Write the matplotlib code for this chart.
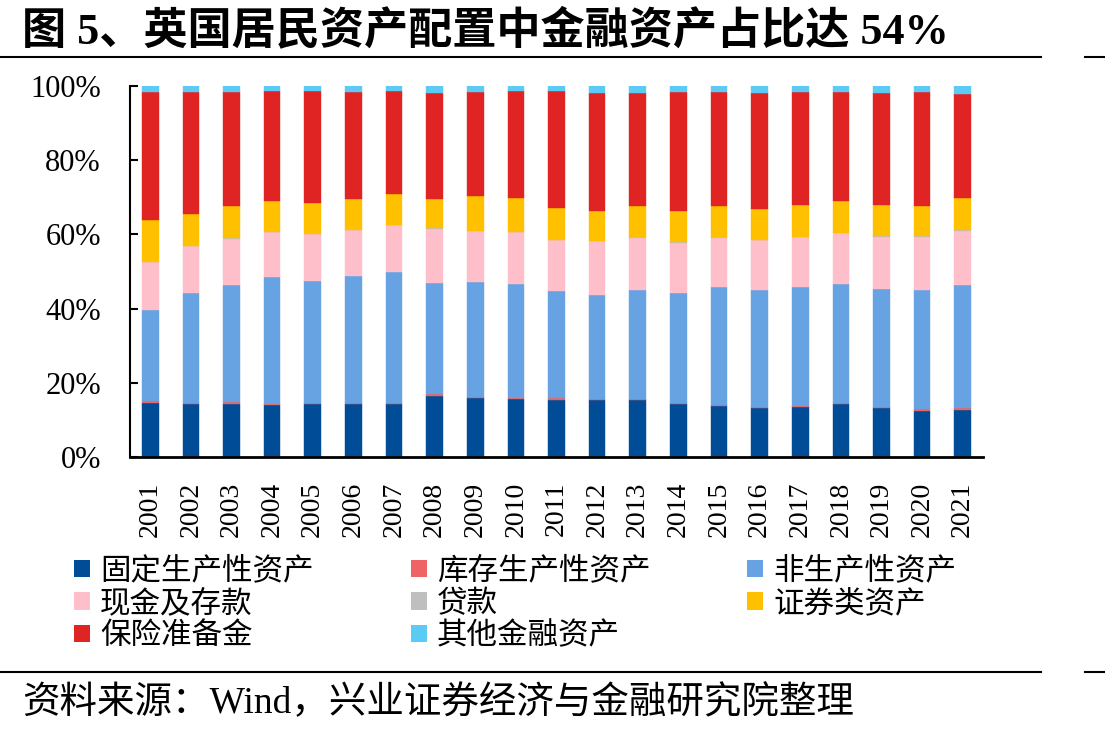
import matplotlib
matplotlib.use("Agg")
import matplotlib.pyplot as plt
import numpy as np
from matplotlib.patches import Patch
from matplotlib.lines import Line2D

plt.rcParams['font.family'] = ['Liberation Serif', 'Noto Sans CJK SC', 'DejaVu Sans']

years = [str(y) for y in range(2001, 2022)]
series_names = ["固定生产性资产", "库存生产性资产", "非生产性资产", "现金及存款",
                "贷款", "证券类资产", "保险准备金", "其他金融资产"]
colors = ["#004C97", "#EE6363", "#67A3E3", "#FFBFCA", "#BFBFBF", "#FFC000", "#E02424", "#5BCBF5"]

fixed_prod = [14.5, 14.3, 14.3, 13.9, 14.3, 14.2, 14.3, 16.5, 16.0, 15.7, 15.5,
              15.3, 15.3, 14.3, 13.8, 13.3, 13.6, 14.3, 13.3, 12.5, 12.7]
inventory = [0.5, 0.4, 0.4, 0.5, 0.3, 0.3, 0.3, 0.4, 0.2, 0.3, 0.4,
             0.3, 0.3, 0.2, 0.3, 0.3, 0.2, 0.3, 0.3, 0.4, 0.4]
non_prod = [24.5, 29.6, 31.7, 34.2, 32.9, 34.2, 35.3, 30.0, 31.0, 30.7, 28.9,
            28.2, 29.3, 29.6, 31.6, 31.4, 32.1, 32.0, 31.7, 32.1, 33.2]
cash = [12.9, 12.6, 12.4, 12.0, 12.5, 12.4, 12.6, 14.6, 13.7, 13.9, 13.7,
        14.4, 14.2, 13.6, 13.4, 13.5, 13.3, 13.8, 14.1, 14.4, 14.7]
loans = [0.1] * 21
securities = [11.4, 8.4, 8.6, 8.2, 8.5, 8.5, 8.4, 8.0, 9.4, 9.2, 8.5,
              7.9, 8.5, 8.4, 8.4, 8.4, 8.7, 8.5, 8.5, 8.1, 8.7]
insurance = [34.4, 33.0, 30.8, 29.7, 30.1, 28.7, 27.7, 28.4, 28.0, 28.6, 31.5,
             31.9, 30.3, 32.0, 30.7, 31.2, 30.4, 29.4, 30.1, 30.8, 28.0]
other_fin = [1.6, 1.6, 1.6, 1.3, 1.3, 1.6, 1.3, 1.9, 1.6, 1.4, 1.4,
             1.9, 1.9, 1.7, 1.6, 1.8, 1.6, 1.6, 1.9, 1.6, 2.2]

data = [fixed_prod, inventory, non_prod, cash, loans, securities, insurance, other_fin]
arr = np.array(data, dtype=float)
arr = arr / arr.sum(axis=0) * 100.0

fig = plt.figure(figsize=(11.05, 7.36), dpi=100)
ax = fig.add_axes([0.1176, 0.379, 0.772, 0.504])

x = np.arange(len(years))
bottom = np.zeros(len(years))
handles = []
for vals, name, c in zip(arr, series_names, colors):
    ax.bar(x, vals, width=0.41, bottom=bottom, color=c, edgecolor=c, linewidth=0.3)
    bottom += vals
    handles.append(Patch(facecolor=c, edgecolor='none', label=name))

ax.set_xlim(-0.5, len(years) - 0.5)
ax.set_ylim(0, 100)
ax.set_yticks([0, 20, 40, 60, 80, 100])
ax.set_yticklabels([f"{v}%" for v in [0, 20, 40, 60, 80, 100]], fontsize=22,
                   family='Liberation Serif')
ax.set_xticks(x)
ax.set_xticklabels(years, rotation=90, fontsize=20, family='Liberation Serif')
ax.tick_params(axis='y', direction='in', length=6, width=1.5, pad=21)
ax.tick_params(axis='x', length=0, pad=18)
for s in ['top', 'right']:
    ax.spines[s].set_visible(False)
ax.spines['left'].set_linewidth(1.5)
ax.spines['bottom'].set_linewidth(2)

order = [0, 3, 6, 1, 4, 7, 2, 5]
leg = fig.legend([handles[i] for i in order], [series_names[i] for i in order],
                 ncol=3, loc='upper left', bbox_to_anchor=(0.067, 0.2455),
                 frameon=False, handlelength=0.52, handleheight=0.52,
                 handletextpad=0.33, columnspacing=3.18, labelspacing=0.05,
                 borderpad=0, borderaxespad=0,
                 prop={'family': ['Noto Sans CJK SC'], 'size': 22})

fig.text(0.02, 0.958, "图 5、英国居民资产配置中金融资产占比达 54%", fontsize=31.8,
         fontweight='bold', va='center', ha='left',
         family=['Liberation Serif', 'Noto Sans CJK SC'])
fig.add_artist(Line2D([0, 0.942], [0.922, 0.922], color='black', lw=1.5,
                      transform=fig.transFigure))
fig.add_artist(Line2D([0.982, 1.0], [0.922, 0.922], color='black', lw=1.5,
                      transform=fig.transFigure))
fig.add_artist(Line2D([0, 0.942], [0.087, 0.087], color='black', lw=1.5,
                      transform=fig.transFigure))
fig.add_artist(Line2D([0.982, 1.0], [0.087, 0.087], color='black', lw=1.5,
                      transform=fig.transFigure))
fig.text(0.02, 0.045, "资料来源：Wind，兴业证券经济与金融研究院整理", fontsize=27,
         va='center', ha='left', family=['Liberation Serif', 'Noto Sans CJK SC'])

fig.savefig("out.png", dpi=100)
